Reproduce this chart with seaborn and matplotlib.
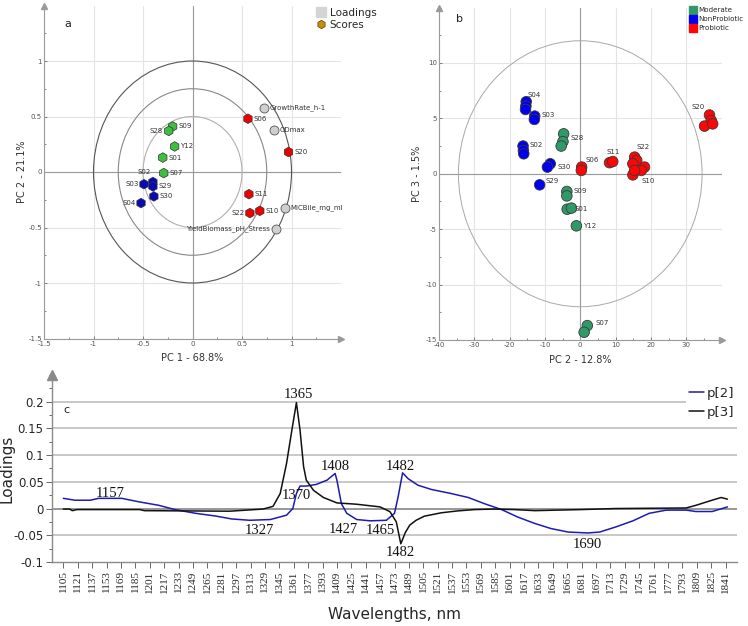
import matplotlib
matplotlib.use("Agg")
import matplotlib.pyplot as plt
import seaborn as sns
import pandas as pd
from matplotlib.patches import Circle, Ellipse
from matplotlib.lines import Line2D
from matplotlib.ticker import AutoMinorLocator

# ---- panel a: scores and loadings, PC1 vs PC2 ----
score_names = ['S09', 'S28', 'Y12', 'S01', 'S07', 'S02', 'S03', 'S29', 'S30', 'S04',
               'S06', 'S20', 'S11', 'S10', 'S22']
score_pc1 = [-0.20, -0.24, -0.18, -0.30, -0.29, -0.40, -0.49, -0.40, -0.39, -0.52,
             0.56, 0.97, 0.57, 0.68, 0.58]
score_pc2 = [0.41, 0.37, 0.23, 0.13, -0.01, -0.09, -0.11, -0.13, -0.22, -0.28,
             0.48, 0.18, -0.20, -0.35, -0.37]
score_group = ['Moderate', 'Moderate', 'Moderate', 'Moderate', 'Moderate',
               'NonProbiotic', 'NonProbiotic', 'NonProbiotic', 'NonProbiotic', 'NonProbiotic',
               'Probiotic', 'Probiotic', 'Probiotic', 'Probiotic', 'Probiotic']

loading_names = ['GrowthRate_h-1', 'ODmax', 'MICBile_mg_ml', 'YieldBiomass_pH_Stress']
loading_pc1 = [0.72, 0.82, 0.93, 0.84]
loading_pc2 = [0.58, 0.375, -0.32, -0.51]

# ---- panel b: scores, PC2 vs PC3 (replicates) ----
b_names = ['S04', 'S04', 'S04', 'S03', 'S03', 'S02', 'S02', 'S02', 'S30', 'S30', 'S29',
           'S28', 'S28', 'S28', 'S09', 'S09', 'S01', 'S01', 'Y12', 'S07', 'S07',
           'S06', 'S06', 'S11', 'S11', 'S22', 'S22', 'S22', 'S10', 'S10', 'S10', 'S10',
           'S20', 'S20', 'S20', 'S20']
b_pc2 = [-15.3, -15.4, -15.5, -12.9, -13.0, -16.2, -16.1, -16.0, -8.5, -9.3, -11.5,
         -4.7, -4.9, -5.4, -3.8, -3.8, -3.7, -2.5, -1.1, 2.0, 1.1,
         0.4, 0.3, 8.3, 9.2, 15.4, 16.0, 14.9, 18.2, 17.3, 14.9, 15.4,
         36.6, 37.1, 35.2, 37.5]
b_pc3 = [6.5, 6.1, 5.8, 5.2, 4.9, 2.5, 2.1, 1.8, 0.9, 0.6, -1.0,
         3.6, 2.9, 2.5, -1.6, -2.0, -3.2, -3.1, -4.7, -13.7, -14.3,
         0.6, 0.3, 1.0, 1.1, 1.5, 1.2, 0.9, 0.6, 0.3, -0.1, 0.3,
         5.3, 4.8, 4.3, 4.5]
sample_class = {'S28': 'Moderate', 'S09': 'Moderate', 'S01': 'Moderate', 'Y12': 'Moderate', 'S07': 'Moderate',
                'S04': 'NonProbiotic', 'S03': 'NonProbiotic', 'S02': 'NonProbiotic', 'S30': 'NonProbiotic',
                'S29': 'NonProbiotic',
                'S06': 'Probiotic', 'S11': 'Probiotic', 'S22': 'Probiotic', 'S10': 'Probiotic', 'S20': 'Probiotic'}

# ---- panel c: loading spectra ----
wl_p2 = [1105, 1118, 1135, 1144, 1170, 1189, 1211, 1229, 1252, 1274, 1292, 1312, 1335, 1353,
         1360, 1364, 1368, 1375, 1386, 1398, 1407, 1409, 1414, 1420, 1431, 1446, 1464, 1473,
         1477, 1482, 1488, 1499, 1514, 1536, 1555, 1573, 1592, 1610, 1629, 1647, 1666, 1688,
         1701, 1719, 1738, 1756, 1775, 1797, 1808, 1826, 1843]
p2 = [0.019, 0.0155, 0.0155, 0.019, 0.019, 0.0125, 0.006, -0.002, -0.009, -0.014, -0.0195,
      -0.022, -0.0206, -0.0125, 0.0, 0.028, 0.042, 0.042, 0.045, 0.053, 0.0655, 0.053, 0.009,
      -0.009, -0.0206, -0.023, -0.022, -0.009, 0.0217, 0.0667, 0.056, 0.0436, 0.0356, 0.028,
      0.0206, 0.009, -0.002, -0.016, -0.028, -0.0375, -0.044, -0.0457, -0.044, -0.0344,
      -0.023, -0.009, -0.003, -0.003, -0.0056, -0.0056, 0.003]

wl_p3 = [1105, 1112, 1115, 1120, 1190, 1195, 1290, 1327, 1338, 1346, 1353, 1359, 1364, 1368,
         1372, 1375, 1383, 1394, 1409, 1431, 1457, 1468, 1475, 1480, 1485, 1490, 1497, 1506,
         1525, 1543, 1562, 1584, 1606, 1629, 1655, 1680, 1719, 1797, 1808, 1826, 1836, 1843]
p3 = [-0.001, -0.001, -0.004, -0.002, -0.002, -0.004, -0.005, -0.001, 0.004, 0.028, 0.084,
      0.147, 0.198, 0.147, 0.078, 0.053, 0.034, 0.0206, 0.0105, 0.008, 0.003, -0.006, -0.025,
      -0.066, -0.045, -0.031, -0.022, -0.0144, -0.008, -0.0045, -0.002, -0.001, -0.002,
      -0.004, -0.003, -0.002, 0.0, 0.001, 0.006, 0.0156, 0.0206, 0.0175]

peak_text = ['1157', '1365', '1370', '1408', '1327', '1427', '1465', '1482', '1482', '1690']
peak_x = [1157, 1366, 1364, 1407, 1323, 1416, 1457, 1479, 1479, 1687]
peak_y = [0.029, 0.214, 0.025, 0.078, -0.042, -0.039, -0.042, 0.079, -0.082, -0.067]

wl_ticks = list(range(1105, 1842, 16))

W, H = 748, 626
sns.set_theme(style="white")
plt.rcParams['font.family'] = ['DejaVu Sans']

fig = plt.figure(figsize=(W / 100, H / 100), dpi=100)

def box(l, t, r, b):
    return [l / W, 1 - b / H, (r - l) / W, (b - t) / H]

def pca_axes(ax, xlim, ylim, xticks, yticks):
    ax.set_xlim(*xlim)
    ax.set_ylim(*ylim)
    ax.set_xticks(xticks)
    ax.set_yticks(yticks)
    ax.set_xticklabels([f'{v:g}' for v in xticks])
    ax.set_yticklabels([f'{v:g}' for v in yticks])
    ax.xaxis.set_minor_locator(AutoMinorLocator(2))
    ax.yaxis.set_minor_locator(AutoMinorLocator(2))
    ax.grid(True, which='major', color='#e4e4e4', lw=0.8)
    ax.axhline(0, color='#9a9a9a', lw=0.8, zorder=1)
    ax.axvline(0, color='#9a9a9a', lw=0.8, zorder=1)
    for s in ['top', 'right']:
        ax.spines[s].set_visible(False)
    for s in ['left', 'bottom']:
        ax.spines[s].set_color('#9a9a9a')
        ax.spines[s].set_linewidth(0.8)
    ax.tick_params(which='both', labelsize=5, colors='#555555', length=2, width=0.5,
                   direction='in', pad=1.5, left=True, bottom=True)
    ax.tick_params(which='minor', length=1.2)
    ax.plot(1, 0, '>', color='#9a9a9a', ms=4, transform=ax.transAxes, clip_on=False)
    ax.plot(0, 1, '^', color='#9a9a9a', ms=4, transform=ax.transAxes, clip_on=False)

# ----- panel a -----
ax_a = fig.add_axes(box(44, 5.5, 341, 338.5))
pca_axes(ax_a, (-1.5, 1.5), (-1.5, 1.5), [-1.5, -1, -0.5, 0, 0.5, 1], [-1.5, -1, -0.5, 0, 0.5, 1])
for r, c in [(1.0, '#555555'), (0.75, '#888888'), (0.5, '#b0b0b0')]:
    ax_a.add_patch(Circle((0, 0), r, fill=False, ec=c, lw=0.8, zorder=2))

df_load = pd.DataFrame({'pc1': loading_pc1, 'pc2': loading_pc2, 'name': loading_names})
sns.scatterplot(data=df_load, x='pc1', y='pc2', ax=ax_a, marker='o', s=42, color='#cfcfcf',
                edgecolor='#555555', linewidth=0.6, zorder=4, legend=False)
df_a = pd.DataFrame({'pc1': score_pc1, 'pc2': score_pc2, 'name': score_names, 'group': score_group})
sns.scatterplot(data=df_a, x='pc1', y='pc2', hue='group', ax=ax_a, marker='h', s=48,
                palette={'Moderate': '#3fbf3f', 'NonProbiotic': '#0a0ab4', 'Probiotic': '#ee0000'},
                edgecolor='#333333', linewidth=0.5, zorder=5, legend=False)

left_a = {'S28', 'S03', 'S04', 'S22', 'YieldBiomass_pH_Stress'}
offset_a = {'S02': (-11, 7)}
for _, row in pd.concat([df_a, df_load]).iterrows():
    ha = 'right' if row['name'] in left_a else 'left'
    dx, dy = offset_a.get(row['name'], (-4 if ha == 'right' else 4, 0))
    ax_a.annotate(row['name'], (row['pc1'], row['pc2']), xytext=(dx, dy), textcoords='offset points',
                  fontsize=5, color='#333333', ha=ha, va='center', zorder=6)

ax_a.set_xlabel('PC 1 - 68.8%', fontsize=7, color='#333333')
ax_a.set_ylabel('PC 2 - 21.1%', fontsize=7, color='#333333')
ax_a.xaxis.set_label_coords(0.5, -0.044)
ax_a.yaxis.set_label_coords(-0.057, 0.5)
ax_a.text(0.07, 0.935, 'a', transform=ax_a.transAxes, fontsize=8, color='#222222')

fig.legend(handles=[Line2D([], [], ls='', marker='s', ms=7, color='#d4d4d4'),
                    Line2D([], [], ls='', marker='h', ms=6, color='#cc8c0a', mec='#5a3d00', mew=0.5)],
           labels=['Loadings', 'Scores'], loc='upper left', bbox_to_anchor=(316 / W, 1 - 8 / H),
           frameon=False, fontsize=7.5, handlelength=1, handletextpad=0.3, labelspacing=0.15,
           borderaxespad=0, borderpad=0)

# ----- panel b -----
ax_b = fig.add_axes(box(439, 7.5, 721.5, 340))
pca_axes(ax_b, (-40, 40), (-15, 15), [-40, -30, -20, -10, 0, 10, 20, 30], [-15, -10, -5, 0, 5, 10])
ax_b.add_patch(Ellipse((0, 0), 69, 24, fill=False, ec='#a8a8a8', lw=0.7, zorder=2))
df_b = pd.DataFrame({'pc2': b_pc2, 'pc3': b_pc3, 'name': b_names})
df_b['cls'] = df_b['name'].map(sample_class)
sns.scatterplot(data=df_b, x='pc2', y='pc3', hue='cls', ax=ax_b, marker='o', s=58,
                palette={'Moderate': '#2f9a68', 'NonProbiotic': '#0000ee', 'Probiotic': '#ff0505'},
                edgecolor='#3a3a3a', linewidth=0.6, zorder=5, legend=False)

label_b = {'S04': (1, 5), 'S03': (5, 1), 'S02': (5, 1), 'S30': (5, -2), 'S29': (4, 3),
           'S28': (5, -3), 'S09': (5, 0), 'S01': (5, 0), 'Y12': (5, 0), 'S07': (6, 2),
           'S06': (3, 5), 'S11': (-2, 8), 'S22': (1, 7), 'S10': (-2, -10), 'S20': (-13, 6)}
first_b = df_b.groupby('name', sort=False).first()
for name, row in first_b.iterrows():
    dx, dy = label_b[name]
    ax_b.annotate(name, (row['pc2'], row['pc3']), xytext=(dx, dy), textcoords='offset points',
                  fontsize=5, color='#333333', ha='left', va='center', zorder=6)

ax_b.set_xlabel('PC 2 - 12.8%', fontsize=7, color='#333333')
ax_b.set_ylabel('PC 3 - 1.5%', fontsize=7, color='#333333')
ax_b.xaxis.set_label_coords(0.5, -0.044)
ax_b.yaxis.set_label_coords(-0.06, 0.5)
ax_b.text(0.06, 0.955, 'b', transform=ax_b.transAxes, fontsize=8, color='#222222')

fig.legend(handles=[Line2D([], [], ls='', marker='s', ms=6, color=c)
                    for c in ['#2f9a68', '#0000ee', '#ff0505']],
           labels=['Moderate', 'NonProbiotic', 'Probiotic'], loc='upper left',
           bbox_to_anchor=(690 / W, 1 - 7 / H), frameon=False, fontsize=5.1, handlelength=0.8,
           handletextpad=0.3, labelspacing=0.45, borderaxespad=0, borderpad=0)

# ----- panel c -----
ax_c = fig.add_axes(box(52, 374.8, 737, 562))
sns.lineplot(x=wl_p2, y=p2, ax=ax_c, color='#1c1cb4', lw=1.1, label='p[2]', zorder=4)
sns.lineplot(x=wl_p3, y=p3, ax=ax_c, color='#111111', lw=1.1, label='p[3]', zorder=4)
ax_c.set_xlim(1092.4, 1853.6)
ax_c.set_ylim(-0.1, 0.25)
ax_c.set_yticks([-0.1, -0.05, 0, 0.05, 0.1, 0.15, 0.2])
ax_c.set_yticklabels(['-0.1', '-0.05', '0', '0.05', '0.1', '0.15', '0.2'])
ax_c.yaxis.set_minor_locator(AutoMinorLocator(2))
for yv in [-0.05, 0.05, 0.1, 0.15, 0.2]:
    ax_c.axhline(yv, color='#c8c8c8', lw=1.4, zorder=1)
ax_c.axhline(0, color='#7a7a7a', lw=1.1, zorder=1)
ax_c.set_xticks(wl_ticks)
ax_c.set_xticklabels([str(t) for t in wl_ticks], rotation=90, fontsize=8,
                     family='Liberation Serif')
for s in ['top', 'right']:
    ax_c.spines[s].set_visible(False)
for s in ['left', 'bottom']:
    ax_c.spines[s].set_color('#8a8a8a')
    ax_c.spines[s].set_linewidth(1.0)
ax_c.tick_params(axis='both', which='both', direction='out', color='#666666', length=4,
                 width=0.7, left=True, bottom=True)
ax_c.tick_params(axis='y', which='minor', length=2.5)
ax_c.tick_params(axis='y', labelsize=8.5, pad=2)
ax_c.tick_params(axis='x', pad=2)
ax_c.plot(0, 1, '^', color='#8a8a8a', ms=7, transform=ax_c.transAxes, clip_on=False)

for t, x, y in zip(peak_text, peak_x, peak_y):
    ax_c.text(x, y, t, ha='center', va='center', fontsize=10.5, family='Liberation Serif',
              color='#111111', zorder=6)

ax_c.text(0.016, 0.796, 'c', transform=ax_c.transAxes, fontsize=8, color='#222222')
ax_c.set_ylabel('Loadings', fontsize=11)
ax_c.set_xlabel('Wavelengths, nm', fontsize=11)
ax_c.yaxis.set_label_coords(-0.055, 0.5)
ax_c.xaxis.set_label_coords(0.5, -0.24)
ax_c.legend(loc='upper right', bbox_to_anchor=(1.01, 0.985), fontsize=9.5, handlelength=1.2,
            handletextpad=0.2, labelspacing=0.45, frameon=True, framealpha=1,
            edgecolor='none', facecolor='white', borderpad=0.2)

fig.savefig('out.png', dpi=100)
